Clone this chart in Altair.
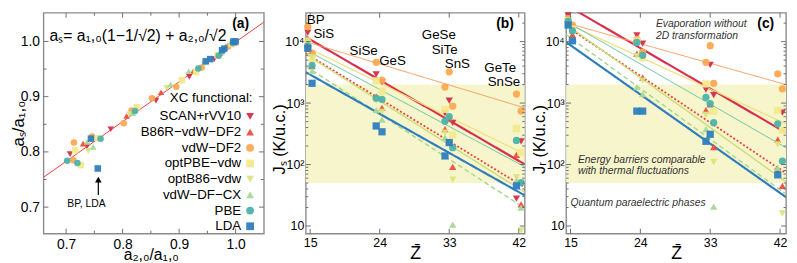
import altair as alt
import pandas as pd

FONT = "Liberation Sans"
FRAME = "#8c8c8c"
TICK = "#6f6f6f"
BAND = "#f7f5cb"

# ---------------- common data ----------------
functionals = ["SCAN+rVV10", "B86R−vdW−DF2", "vdW−DF2", "optPBE−vdw",
               "optB86−vdw", "vdW−DF−CX", "PBE", "LDA"]
marker_colors = ["#d62d48", "#ef4d3a", "#fba950", "#f3e98c",
                 "#d9e57d", "#a7d896", "#4db2aa", "#2e7ebe"]
marker_shapes = ["triangle-down", "triangle-up", "circle", "square",
                 "triangle-down", "triangle-up", "circle", "square"]
line_colors = ["#d9304f", "#ee4434", "#f9995a", "#eee07a",
               "#cadd78", "#a3d68f", "#5fc0a2", "#2e7ebe"]
line_dashes = [[1, 0], [2, 2], [1, 0], [1, 0], [1, 0], [5, 3], [1, 0], [1, 0]]
line_widths = [2.2, 1.8, 1.0, 1.2, 1.4, 1.4, 1.0, 2.2]

# ---------------- panel (a) ----------------
a_scan_x = [0.707, 0.737, 0.779, 0.859, 0.918, 0.962, 0.990]
a_scan_y = [0.796, 0.810, 0.841, 0.893, 0.936, 0.968, 0.991]
a_b86r_x = [0.730, 0.807, 0.868, 0.925, 0.972, 0.998]
a_b86r_y = [0.815, 0.865, 0.908, 0.946, 0.979, 0.998]
a_df2_x = [0.714, 0.713, 0.746, 0.802, 0.816, 0.852, 0.895, 0.940, 0.985]
a_df2_y = [0.817, 0.785, 0.828, 0.852, 0.875, 0.897, 0.918, 0.953, 0.990]
a_optpbe_x = [0.716, 0.726, 0.755, 0.825, 0.905, 0.930, 0.968, 0.993]
a_optpbe_y = [0.803, 0.776, 0.825, 0.881, 0.930, 0.945, 0.975, 0.995]
a_optb86_x = [0.739, 0.812, 0.878, 0.945, 0.980]
a_optb86_y = [0.802, 0.868, 0.916, 0.958, 0.985]
a_cx_x = [0.737, 0.748, 0.818, 0.885, 0.917, 0.975]
a_cx_y = [0.818, 0.809, 0.870, 0.922, 0.946, 0.980]
a_pbe_x = [0.702, 0.720, 0.761, 0.822, 0.934, 0.970, 0.995]
a_pbe_y = [0.784, 0.780, 0.824, 0.874, 0.951, 0.974, 0.997]
a_lda_x = [0.756, 0.744, 0.947, 0.955, 0.976, 0.980, 0.996, 1.000]
a_lda_y = [0.770, 0.824, 0.964, 0.968, 0.984, 0.987, 1.000, 1.000]
a_line_x = [0.66, 1.05]
a_line_y = [0.754, 1.035]
a_major = [0.7, 0.8, 0.9, 1.0]
a_minor = [0.75, 0.85, 0.95]

# ---------------- panels (b), (c) ----------------
materials = ["BP", "SiS", "SiSe", "GeS", "GeSe", "SiTe", "SnS", "GeTe", "SnSe"]
material_z = [14.7, 15.25, 23.55, 24.3, 32.45, 33.0, 33.45, 41.7, 42.3]

js_scan = [14000, 5800, 2930, 2200, 684, 1100, 478, 28, 239]
js_b86r = [11200, 4000, 1270, 835, 377, 560, 92, 144, 22.5]
js_df2 = [17500, 6500, 4600, 2360, 1820, 3230, 890, 1400, 743]
js_optpbe = [9500, 5200, 2300, 1560, 790, None, 303, 385, 157]
js_optb86 = [10500, 5600, 1100, 720, 330, None, 57, 62, 8.5]
js_cx = [9000, 3300, 770, 540, 275, None, 10.5, 55, 20]
js_pbe = [8500, 4100, 1200, 1150, 507, 600, 188, 247, 51]
js_lda = [7800, 2100, 424, 341, 138, 228, None, 45, None]

jr_scan = [26700, 17200, 12600, 9300, 1650, 4190, 1350, 77, 700]
jr_b86r = [20000, 13000, 6370, 2600, 770, 950, 193, 254, 45]
jr_df2 = [23700, 18500, 10900, 6760, 4610, 8570, 2100, 3000, 1710]
jr_optpbe = [22000, 16000, 10200, 5460, 2050, None, 730, 762, 363]
jr_optb86 = [21000, 15500, 5800, 2310, 640, None, 110, 212, 16]
jr_cx = [19000, 15000, 1820, 1400, 376, None, 20.7, 88, None]
jr_pbe = [21500, 15000, 9690, 6000, 1240, 977, 479, 461, 114]
jr_lda = [18600, 10300, 740, 740, 239, 311, None, 68, None]

fit_z = [14.44, 42.77]
fit_js = [[11860, 101], [6400, 42.4], [10000, 836], [8220, 148],
          [6180, 35.4], [3980, 19.5], [7310, 92], [3180, 31.5]]
fit_jr = [[39400, 330], [17800, 72], [20200, 2000], [19950, 461],
          [19000, 52.5], [13000, 33], [21400, 188], [9800, 29.5]]

band_lo, band_hi = 50, 2000
z_ticks = [15, 24, 33, 42]
j_major = [10, 100, 1000, 10000]
j_minor = [20, 30, 40, 50, 60, 70, 80, 90, 200, 300, 400, 500, 600, 700, 800, 900,
           2000, 3000, 4000, 5000, 6000, 7000, 8000, 9000, 20000]

# ---------------- tables ----------------
a_xs = [a_scan_x, a_b86r_x, a_df2_x, a_optpbe_x, a_optb86_x, a_cx_x, a_pbe_x, a_lda_x]
a_ys = [a_scan_y, a_b86r_y, a_df2_y, a_optpbe_y, a_optb86_y, a_cx_y, a_pbe_y, a_lda_y]
rows = []
for f, xs, ys in zip(functionals, a_xs, a_ys):
    for x, y in zip(xs, ys):
        rows.append({"f": f, "x": x, "y": y})
df_a = pd.DataFrame(rows)


def jtable(series):
    out = []
    for f, vals in zip(functionals, series):
        for m, z, v in zip(materials, material_z, vals):
            if v is not None:
                out.append({"f": f, "m": m, "Z": z, "J": v})
    return pd.DataFrame(out)


df_b = jtable([js_scan, js_b86r, js_df2, js_optpbe, js_optb86, js_cx, js_pbe, js_lda])
df_c = jtable([jr_scan, jr_b86r, jr_df2, jr_optpbe, jr_optb86, jr_cx, jr_pbe, jr_lda])

H = 224
WA, WB, WC = 223.5, 222, 223

color_scale = alt.Scale(domain=functionals, range=marker_colors)
shape_scale = alt.Scale(domain=functionals, range=marker_shapes)


def inward(values, scale, axis, W, orient, length):
    df = pd.DataFrame({"v": values})
    ch = alt.Chart(df).mark_rule(color=TICK, strokeWidth=1)
    if orient == "left":
        return ch.encode(y=alt.Y("v:Q", scale=scale, axis=axis), x=alt.value(0), x2=alt.value(length))
    if orient == "right":
        return ch.encode(y=alt.Y("v:Q", scale=scale, axis=axis), x=alt.value(W - length), x2=alt.value(W))
    if orient == "bottom":
        return ch.encode(x=alt.X("v:Q", scale=scale, axis=axis), y=alt.value(H - length), y2=alt.value(H))
    return ch.encode(x=alt.X("v:Q", scale=scale, axis=axis), y=alt.value(0), y2=alt.value(length))


def label(text, x, y, size=14, align="left", weight="normal", style="normal", color="black",
          baseline="middle"):
    return alt.Chart(pd.DataFrame({"t": [text]})).mark_text(
        align=align, baseline=baseline, fontSize=size, fontWeight=weight, fontStyle=style,
        color=color, font=FONT).encode(text="t:N", x=alt.value(x), y=alt.value(y))


# ---------------- panel (a) chart ----------------
xa = alt.Scale(domain=[0.66, 1.05], nice=False, zero=False)
ya = alt.Scale(domain=[0.652, 1.052], nice=False, zero=False)
ax_ax = alt.Axis(values=a_major, format=".1f", labelFontSize=14, labelPadding=4,
                 title="a₂,₀/a₁,₀", titleFontSize=16, titleBaseline="alphabetic",
                 titleY=26, titleX=WA / 2 - 3)
ax_ay = alt.Axis(values=a_major, format=".1f", labelFontSize=14, labelPadding=4,
                 title="aₛ/a₁,₀", titleFontSize=17, titleBaseline="middle", titleX=-25.5)

a_fit = alt.Chart(pd.DataFrame({"x": a_line_x, "y": a_line_y})).mark_line(
    color="#ee3b3b", strokeWidth=1, clip=True).encode(
    x=alt.X("x:Q", scale=xa, axis=ax_ax), y=alt.Y("y:Q", scale=ya, axis=ax_ay))

a_pts = alt.Chart(df_a).mark_point(filled=True, size=44, opacity=0.95).encode(
    x=alt.X("x:Q", scale=xa, axis=ax_ax),
    y=alt.Y("y:Q", scale=ya, axis=ax_ay),
    color=alt.Color("f:N", scale=color_scale, legend=None),
    shape=alt.Shape("f:N", scale=shape_scale, legend=None))

arrow_x = 0.757
a_arrow = alt.Chart(pd.DataFrame({"x": [arrow_x], "y1": [0.722], "y2": [0.748]})).mark_rule(
    color="black", strokeWidth=1.2).encode(x=alt.X("x:Q", scale=xa, axis=ax_ax),
                                           y=alt.Y("y1:Q", scale=ya, axis=ax_ay), y2="y2:Q")
a_head = alt.Chart(pd.DataFrame({"x": [arrow_x], "y": [0.750]})).mark_point(
    shape="triangle-up", filled=True, color="black", size=45, opacity=1).encode(
    x=alt.X("x:Q", scale=xa, axis=ax_ax), y=alt.Y("y:Q", scale=ya, axis=ax_ay))
a_note = alt.Chart(pd.DataFrame({"x": [0.736], "y": [0.705], "t": ["BP, LDA"]})).mark_text(
    fontSize=10.5, font=FONT, color="black").encode(
    x=alt.X("x:Q", scale=xa, axis=ax_ax), y=alt.Y("y:Q", scale=ya, axis=ax_ay), text="t:N")

leg_df = pd.DataFrame({"f": functionals, "i": list(range(len(functionals)))})
leg_text = alt.Chart(leg_df).transform_calculate(py="105.2 + 15.9 * datum.i").mark_text(
    align="right", baseline="middle", fontSize=13.5, font=FONT, color="black").encode(
    text="f:N", x=alt.value(200.5), y=alt.Y("py:Q", scale=None))
leg_sym = alt.Chart(leg_df).transform_calculate(py="105.2 + 15.9 * datum.i").mark_point(
    filled=True, size=62, opacity=0.95).encode(
    x=alt.value(209.5), y=alt.Y("py:Q", scale=None),
    color=alt.Color("f:N", scale=color_scale, legend=None),
    shape=alt.Shape("f:N", scale=shape_scale, legend=None))

panel_a = alt.layer(
    a_fit, a_pts, a_arrow, a_head, a_note, leg_text, leg_sym,
    label("XC functional:", 212, 86.1, size=13.5, align="right"),
    label("aₛ= a₁,₀(1−1/√2) + a₂,₀/√2", 6, 29, size=16, baseline="alphabetic"),
    label("(a)", 208.5, 11, size=14, align="right", weight="bold"),
    inward(a_major, ya, ax_ay, WA, "left", 5), inward(a_minor, ya, ax_ay, WA, "left", 3),
    inward(a_major, ya, ax_ay, WA, "right", 5), inward(a_minor, ya, ax_ay, WA, "right", 3),
    inward(a_major, xa, ax_ax, WA, "bottom", 5), inward(a_minor, xa, ax_ax, WA, "bottom", 3),
    inward(a_major, xa, ax_ax, WA, "top", 5), inward(a_minor, xa, ax_ax, WA, "top", 3),
).properties(width=WA, height=H)

# ---------------- panels (b), (c) ----------------
xz = alt.Scale(domain=[14.44, 42.77], nice=False, zero=False)
yj = alt.Scale(type="log", domain=[7.52, 29500], nice=False)
j_label_expr = ("datum.value == 10 ? '10' : datum.value == 100 ? '10²' : "
                "datum.value == 1000 ? '10³' : '10⁴'")
ax_z = alt.Axis(values=z_ticks, labelFontSize=12.5, labelPadding=3, title="Z̄",
                titleFontSize=18, titleBaseline="alphabetic", titleY=25)


def jpanel(df, fits, W, ytitle, extras):
    ax_j = alt.Axis(values=j_major, labelExpr=j_label_expr, labelFontSize=12.5, labelPadding=2,
                    title=ytitle, titleFontSize=16.5, titleBaseline="middle",
                    titleX=-27, titleY=128)
    band = alt.Chart(pd.DataFrame({"lo": [band_lo], "hi": [band_hi]})).mark_rect(
        color=BAND).encode(y=alt.Y("lo:Q", scale=yj, axis=ax_j), y2="hi:Q",
                           x=alt.value(0), x2=alt.value(W))
    lines = []
    for f, fv, c, d, w in zip(functionals, fits, line_colors, line_dashes, line_widths):
        lines.append(alt.Chart(pd.DataFrame({"Z": fit_z, "J": fv})).mark_line(
            color=c, strokeDash=d, strokeWidth=w, clip=True).encode(
            x=alt.X("Z:Q", scale=xz, axis=ax_z), y=alt.Y("J:Q", scale=yj, axis=ax_j)))
    pts = alt.Chart(df).mark_point(filled=True, size=54, opacity=0.95).encode(
        x=alt.X("Z:Q", scale=xz, axis=ax_z),
        y=alt.Y("J:Q", scale=yj, axis=ax_j),
        color=alt.Color("f:N", scale=color_scale, legend=None),
        shape=alt.Shape("f:N", scale=shape_scale, legend=None))
    ticks = [inward(j_major, yj, ax_j, W, "left", 5), inward(j_minor, yj, ax_j, W, "left", 2.5),
             inward(j_major, yj, ax_j, W, "right", 5), inward(j_minor, yj, ax_j, W, "right", 2.5),
             inward(z_ticks, xz, ax_z, W, "bottom", 5), inward(z_ticks, xz, ax_z, W, "top", 5)]
    return alt.layer(band, *lines, pts, *ticks, *extras).properties(width=W, height=H)


b_extras = [
    label("BP", 1, 7.8, size=13.5), label("SiS", 7.7, 21.5, size=13.5),
    label("SiSe", 44.4, 38.5, size=13.5), label("GeS", 74.4, 48.5, size=13.5),
    label("GeSe", 117.7, 23, size=13.5), label("SiTe", 127.7, 38, size=13.5),
    label("SnS", 141, 52, size=13.5), label("GeTe", 181, 56.2, size=13.5),
    label("SnSe", 184.4, 70, size=13.5),
    label("(b)", 211, 11, align="right", weight="bold"),
]
c_extras = [
    label("Evaporation without", 91, 11.6, size=10.5, style="italic", color="#333333"),
    label("2D transformation", 91, 23.3, size=10.5, style="italic", color="#333333"),
    label("(c)", 211, 11, align="right", weight="bold"),
    label("Energy barriers comparable", 12, 149.6, size=10.5, style="italic", color="#333333"),
    label("with thermal fluctuations", 12, 160.8, size=10.5, style="italic", color="#333333"),
    label("Quantum paraelectric phases", 4.4, 192.7, size=10.5, style="italic", color="#333333"),
]

panel_b = jpanel(df_b, fit_js, WB, "Jₛ (K/u.c.)", b_extras)
panel_c = jpanel(df_c, fit_jr, WC, "Jᵣ (K/u.c.)", c_extras)

chart = alt.hconcat(panel_a, panel_b, panel_c, spacing=42, bounds="flush").properties(
    padding={"left": 0, "top": 1, "right": 1, "bottom": 0}
).configure_view(stroke=FRAME, strokeWidth=1.4).configure_axis(
    grid=False, domain=False, ticks=False, labelColor="black", titleColor="black",
    labelFont=FONT, titleFont=FONT, titleFontWeight="normal"
).configure_text(font=FONT)

chart.save("out.html", embed_options={"renderer": "svg", "actions": False})
